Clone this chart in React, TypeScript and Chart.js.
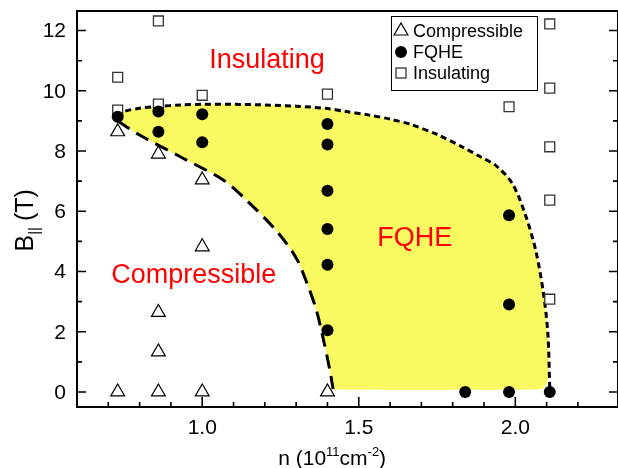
import React, { useEffect, useRef } from "react";
import { Chart, registerables } from "chart.js";
Chart.register(...registerables);

// ---- data ----
const compressibleX = [0.73, 0.73, 0.86, 0.86, 0.86, 0.86, 1.0, 1.0, 1.0, 1.4];
const compressibleY = [0, 8.64, 0, 1.33, 2.64, 7.9, 0, 4.82, 7.04, 0];

const fqheX = [0.73, 0.86, 0.86, 1.0, 1.0, 1.4, 1.4, 1.4, 1.4, 1.4, 1.4, 1.98, 1.98, 1.98, 1.84, 2.11];
const fqheY = [9.14, 9.31, 8.64, 9.22, 8.29, 8.9, 8.22, 6.68, 5.41, 4.22, 2.05, 5.87, 2.9, 0, 0, 0];

const insulatingX = [0.73, 0.73, 0.86, 0.86, 1.0, 1.4, 1.98, 2.11, 2.11, 2.11, 2.11, 2.11];
const insulatingY = [10.45, 9.36, 12.32, 9.56, 9.85, 9.89, 9.47, 12.22, 10.09, 8.14, 6.37, 3.08];

// FQHE / Insulating boundary (short dashes)
const upperBoundaryX = [0.73, 0.75, 0.8, 0.86, 0.93, 1.0, 1.1, 1.2, 1.3, 1.4, 1.46, 1.53, 1.6, 1.67, 1.75, 1.83, 1.89, 1.94, 1.99, 2.03, 2.065, 2.09, 2.104, 2.11];
const upperBoundaryY = [9.12, 9.31, 9.42, 9.48, 9.53, 9.55, 9.55, 9.53, 9.49, 9.41, 9.31, 9.2, 9.06, 8.87, 8.55, 8.14, 7.8, 7.5, 6.93, 5.95, 4.71, 3.27, 1.94, 0.15];

// FQHE / Compressible boundary (long dashes)
const lowerBoundaryX = [0.73, 0.8, 0.93, 1.067, 1.141, 1.237, 1.3, 1.335, 1.365, 1.39, 1.408, 1.418];
const lowerBoundaryY = [9.0, 8.53, 7.81, 7.04, 6.37, 5.35, 4.45, 3.6, 2.7, 1.6, 0.7, 0.1];

// bottom edge of the FQHE region
const bottomEdgeX = [2.105, 2.092, 2.065, 1.43];
const bottomEdgeY = [0.5, 0.15, 0.08, 0.08];

const xTickValues = [1.0, 1.5, 2.0];
const xTickLabels = ["1.0", "1.5", "2.0"];
const xMinorTicks = [0.7, 0.8, 0.9, 1.1, 1.2, 1.3, 1.4, 1.6, 1.7, 1.8, 1.9, 2.1, 2.2];
const yTickValues = [0, 2, 4, 6, 8, 10, 12];
const yTickLabels = ["0", "2", "4", "6", "8", "10", "12"];
const yMinorTicks = [1, 3, 5, 7, 9, 11];

const regionText = ["Insulating", "Compressible", "FQHE"];
const regionX = [1.207, 0.973, 1.679];
const regionY = [10.77, 3.62, 4.84];

const legendLabels = ["Compressible", "FQHE", "Insulating"];

const FONT = '"Liberation Sans", Arial, Helvetica, sans-serif';

const pts = (xs: number[], ys: number[]) => xs.map((v, i) => ({ x: v, y: ys[i] }));

const decorPlugin = {
  id: "decor",
  afterDatasetsDraw(chart: any) {
    const { ctx, chartArea: a } = chart;
    const x = chart.scales.x;
    const y = chart.scales.y;
    ctx.save();
    // frame
    ctx.strokeStyle = "#000";
    ctx.lineWidth = 2;
    ctx.strokeRect(a.left, a.top, a.right - a.left, a.bottom - a.top);
    // ticks (inward)
    ctx.lineWidth = 1.6;
    ctx.beginPath();
    for (const v of xTickValues) {
      const p = x.getPixelForValue(v);
      ctx.moveTo(p, a.bottom);
      ctx.lineTo(p, a.bottom - 10);
    }
    for (const v of xMinorTicks) {
      const p = x.getPixelForValue(v);
      ctx.moveTo(p, a.bottom);
      ctx.lineTo(p, a.bottom - 5);
    }
    for (const v of yTickValues) {
      const p = y.getPixelForValue(v);
      ctx.moveTo(a.left, p);
      ctx.lineTo(a.left + 9, p);
      ctx.moveTo(a.right, p);
      ctx.lineTo(a.right - 9, p);
    }
    for (const v of yMinorTicks) {
      const p = y.getPixelForValue(v);
      ctx.moveTo(a.left, p);
      ctx.lineTo(a.left + 5, p);
      ctx.moveTo(a.right, p);
      ctx.lineTo(a.right - 5, p);
    }
    ctx.stroke();

    // tick labels
    ctx.fillStyle = "#000";
    ctx.font = `21px ${FONT}`;
    ctx.textAlign = "right";
    ctx.textBaseline = "middle";
    yTickValues.forEach((v, i) => ctx.fillText(yTickLabels[i], a.left - 11, y.getPixelForValue(v) + 1));
    ctx.textAlign = "center";
    ctx.textBaseline = "alphabetic";
    xTickValues.forEach((v, i) => ctx.fillText(xTickLabels[i], x.getPixelForValue(v), a.bottom + 27));

    // region labels
    ctx.fillStyle = "#ff0000";
    ctx.font = `27px ${FONT}`;
    ctx.textAlign = "center";
    ctx.textBaseline = "alphabetic";
    regionText.forEach((t, i) => {
      ctx.fillText(t, x.getPixelForValue(regionX[i]), y.getPixelForValue(regionY[i]));
    });

    // legend
    const lx = 391, ly = 16, lw = 146, lh = 74;
    ctx.fillStyle = "#fff";
    ctx.fillRect(lx, ly, lw, lh);
    ctx.strokeStyle = "#000";
    ctx.lineWidth = 1;
    ctx.strokeRect(lx + 0.5, ly + 0.5, lw, lh);
    const rows = [31, 52, 73];
    const sx = 401;
    ctx.beginPath();
    const r = 8;
    ctx.moveTo(sx, rows[0] - r);
    ctx.lineTo(sx + r * Math.sin((2 * Math.PI) / 3), rows[0] - r * Math.cos((2 * Math.PI) / 3));
    ctx.lineTo(sx + r * Math.sin((4 * Math.PI) / 3), rows[0] - r * Math.cos((4 * Math.PI) / 3));
    ctx.closePath();
    ctx.fillStyle = "#fff";
    ctx.fill();
    ctx.lineWidth = 1.2;
    ctx.strokeStyle = "#000";
    ctx.stroke();
    ctx.beginPath();
    ctx.arc(sx, rows[1], 6, 0, Math.PI * 2);
    ctx.fillStyle = "#000";
    ctx.fill();
    ctx.fillStyle = "#fff";
    ctx.fillRect(sx - 5, rows[2] - 5, 10, 10);
    ctx.strokeStyle = "#333";
    ctx.lineWidth = 1.3;
    ctx.strokeRect(sx - 5, rows[2] - 5, 10, 10);
    ctx.fillStyle = "#000";
    ctx.font = `18px ${FONT}`;
    ctx.textAlign = "left";
    ctx.textBaseline = "middle";
    legendLabels.forEach((t, i) => ctx.fillText(t, 413, rows[i] + 1));

    // x title: n (10^11 cm^-2)
    const big = `21px ${FONT}`;
    const small = `13px ${FONT}`;
    const parts: [string, string, number][] = [
      ["n (10", big, 0],
      ["11", small, -9],
      ["cm", big, 0],
      ["-2", small, -9],
      [")", big, 0],
    ];
    let total = 0;
    for (const [t, f] of parts) {
      ctx.font = f;
      total += ctx.measureText(t).width;
    }
    let cx = x.getPixelForValue(1.415) - total / 2;
    const base = 465;
    ctx.textAlign = "left";
    ctx.textBaseline = "alphabetic";
    for (const [t, f, dy] of parts) {
      ctx.font = f;
      ctx.fillText(t, cx, base + dy);
      cx += ctx.measureText(t).width;
    }

    // y title: B|| (T)
    ctx.save();
    const cy = y.getPixelForValue(5.7);
    ctx.translate(33, cy);
    ctx.rotate(-Math.PI / 2);
    const ybig = `25px ${FONT}`;
    const ysmall = `15px ${FONT}`;
    const yparts: [string, string, number][] = [
      ["B", ybig, 0],
      ["||", ysmall, 6],
      ["(T)", ybig, 0],
    ];
    const gap = 6;
    let ytot = gap;
    for (const [t, f] of yparts) {
      ctx.font = f;
      ytot += ctx.measureText(t).width;
    }
    let tx = -ytot / 2;
    yparts.forEach(([t, f, dy], i) => {
      ctx.font = f;
      ctx.fillText(t, tx, dy);
      tx += ctx.measureText(t).width + (i === 1 ? gap : 0);
    });
    ctx.restore();

    ctx.restore();
  },
};

export default function App() {
  const ref = useRef<HTMLCanvasElement | null>(null);
  useEffect(() => {
    document.body.style.margin = "0";
    const canvas = ref.current;
    if (!canvas) return;
    const fillPoly = pts(
      [...upperBoundaryX.slice(0, -1), ...bottomEdgeX, ...lowerBoundaryX.slice().reverse()],
      [...upperBoundaryY.slice(0, -1), ...bottomEdgeY, ...lowerBoundaryY.slice().reverse()]
    );
    const chart = new Chart(canvas, {
      type: "scatter",
      data: {
        datasets: [
          {
            label: "Compressible",
            data: pts(compressibleX, compressibleY),
            pointStyle: "triangle",
            pointRadius: 8,
            backgroundColor: "#fff",
            borderColor: "#000",
            borderWidth: 1.2,
          },
          {
            label: "FQHE",
            data: pts(fqheX, fqheY),
            pointStyle: "circle",
            pointRadius: 6,
            backgroundColor: "#000",
            borderColor: "#000",
            borderWidth: 0,
          },
          {
            label: "Insulating",
            data: pts(insulatingX, insulatingY),
            pointStyle: "rect",
            pointRadius: 7,
            backgroundColor: "#fff",
            borderColor: "#333",
            borderWidth: 1.3,
          },
          {
            label: "upper",
            data: pts(upperBoundaryX, upperBoundaryY),
            showLine: true,
            pointRadius: 0,
            borderColor: "#000",
            borderWidth: 3,
            borderDash: [6, 4],
            tension: 0.3,
            fill: false,
          },
          {
            label: "lower",
            data: pts(lowerBoundaryX, lowerBoundaryY),
            showLine: true,
            pointRadius: 0,
            borderColor: "#000",
            borderWidth: 3,
            borderDash: [14, 8],
            tension: 0.3,
            fill: false,
          },
          {
            label: "region",
            data: fillPoly,
            showLine: true,
            pointRadius: 0,
            borderWidth: 0,
            borderColor: "rgba(0,0,0,0)",
            backgroundColor: "rgb(249,249,98)",
            tension: 0.3,
            fill: "shape",
          } as any,
        ],
      },
      options: {
        responsive: false,
        animation: false,
        devicePixelRatio: 1,
        events: [],
        layout: { autoPadding: false, padding: { top: 11, right: -2, left: 0, bottom: 0 } },
        plugins: { legend: { display: false }, tooltip: { enabled: false } },
        scales: {
          x: {
            type: "linear",
            min: 0.6,
            max: 2.328,
            afterFit: (s: any) => {
              s.height = 61;
            },
            grid: { display: false, drawTicks: false },
            border: { display: false },
            ticks: { display: false },
          },
          y: {
            type: "linear",
            min: -0.5,
            max: 12.65,
            afterFit: (s: any) => {
              s.width = 77;
            },
            grid: { display: false, drawTicks: false },
            border: { display: false },
            ticks: { display: false },
          },
        },
      },
      plugins: [decorPlugin],
    });
    return () => chart.destroy();
  }, []);
  return (
    <div style={{ width: 618, height: 468 }}>
      <canvas ref={ref} width={618} height={468} />
    </div>
  );
}
